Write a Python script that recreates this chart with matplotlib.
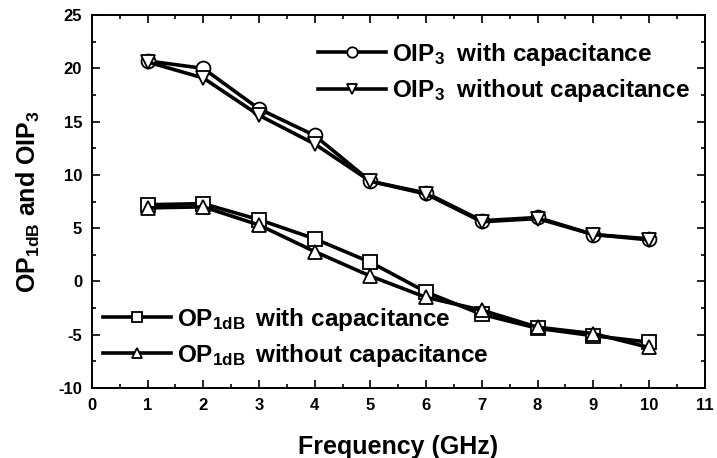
import matplotlib
matplotlib.use('Agg')
import matplotlib.pyplot as plt
from matplotlib.ticker import MultipleLocator

plt.rcParams['font.family'] = ['Liberation Sans', 'DejaVu Sans']
plt.rcParams['font.weight'] = 'bold'
plt.rcParams['axes.unicode_minus'] = False
plt.rcParams['mathtext.fontset'] = 'custom'
plt.rcParams['mathtext.rm'] = 'Liberation Sans:bold'
plt.rcParams['mathtext.it'] = 'Liberation Sans:bold'
plt.rcParams['mathtext.bf'] = 'Liberation Sans:bold'

freq = [1, 2, 3, 4, 5, 6, 7, 8, 9, 10]
oip3_cap = [20.7, 20.0, 16.2, 13.7, 9.4, 8.3, 5.7, 6.0, 4.4, 4.0]
oip3_nocap = [20.6, 19.1, 15.6, 12.9, 9.4, 8.2, 5.6, 5.9, 4.4, 3.9]
op1db_cap = [7.2, 7.3, 5.8, 4.0, 1.8, -1.0, -3.1, -4.4, -5.1, -5.7]
op1db_nocap = [6.9, 7.0, 5.3, 2.8, 0.5, -1.5, -2.7, -4.3, -4.9, -6.2]

fig = plt.figure(figsize=(7.17, 4.58), dpi=100)
ax = fig.add_axes([0.128, 0.153, 0.855, 0.814])

style = dict(color='black', lw=2.6, ms=10, mfc='white', mec='black', mew=1.3)
l1, = ax.plot(freq, oip3_cap, marker='o', label=r'OIP$_{3}\;$ with capacitance', **style)
l2, = ax.plot(freq, oip3_nocap, marker='v', label=r'OIP$_{3}\;$ without capacitance', **style)
l3, = ax.plot(freq, op1db_cap, marker='s', label=r'OP$_{1dB}\,$ with capacitance', **style)
l4, = ax.plot(freq, op1db_nocap, marker='^', label=r'OP$_{1dB}\,$ without capacitance', **style)

ax.set_xlim(0, 11)
ax.set_ylim(-10, 25)
ax.xaxis.set_major_locator(MultipleLocator(1))
ax.xaxis.set_minor_locator(MultipleLocator(0.5))
ax.yaxis.set_major_locator(MultipleLocator(5))
ax.yaxis.set_minor_locator(MultipleLocator(2.5))
ax.tick_params(which='both', direction='in', top=True, right=True, width=1.2)
ax.tick_params(which='major', length=6, labelsize=12, pad=7)
ax.tick_params(which='minor', length=3)
for s in ax.spines.values():
    s.set_linewidth(1.4)

ax.set_xlabel('Frequency (GHz)', fontsize=18, fontweight='bold', labelpad=16)
ax.set_ylabel(r'OP$_{1dB}$ and OIP$_{3}$', fontsize=18, fontweight='bold', labelpad=12)

leg_kw = dict(frameon=False, fontsize=17.5, handlelength=2.8, borderaxespad=0.2,
              handletextpad=0.25, labelspacing=0.38, markerscale=0.75)
leg1 = ax.legend(handles=[l1, l2], loc='upper right',
                 bbox_to_anchor=(1.0, 0.97), **leg_kw)
ax.add_artist(leg1)
ax.legend(handles=[l3, l4], loc='lower left',
          bbox_to_anchor=(-0.005, 0.012), **leg_kw)

fig.savefig('out.png', dpi=100)
